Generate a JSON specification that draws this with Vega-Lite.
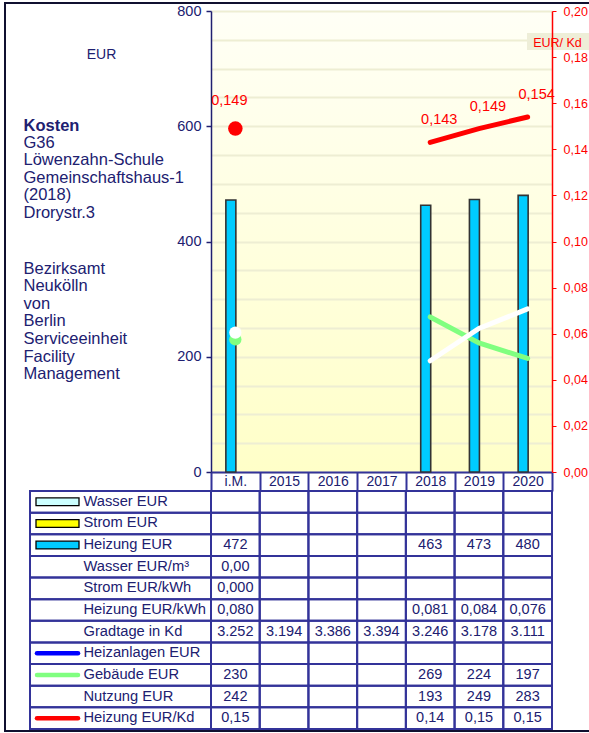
{
  "$schema": "https://vega.github.io/schema/vega-lite/v6.json",
  "width": 341,
  "height": 461,
  "autosize": {"type": "none"},
  "padding": {"left": 211, "top": 11, "right": 37, "bottom": 261},
  "background": "#FFFFFF",
  "view": {
    "stroke": null,
    "fill": {"gradient": "linear", "x1": 0, "y1": 0, "x2": 0, "y2": 1,
      "stops": [{"offset": 0, "color": "#FFFFF6"}, {"offset": 1, "color": "#FFFFC8"}]}
  },
  "config": {
    "font": "Liberation Sans",
    "locale": {"number": {"decimal": ",", "thousands": ".", "grouping": [3], "currency": ["", " €"]}}
  },
  "datasets": {
    "d": [
      {"row": "Wasser EUR", "cat": "i.M.", "v": null},
      {"row": "Wasser EUR", "cat": "2015", "v": null},
      {"row": "Wasser EUR", "cat": "2016", "v": null},
      {"row": "Wasser EUR", "cat": "2017", "v": null},
      {"row": "Wasser EUR", "cat": "2018", "v": null},
      {"row": "Wasser EUR", "cat": "2019", "v": null},
      {"row": "Wasser EUR", "cat": "2020", "v": null},
      {"row": "Strom EUR", "cat": "i.M.", "v": null},
      {"row": "Strom EUR", "cat": "2015", "v": null},
      {"row": "Strom EUR", "cat": "2016", "v": null},
      {"row": "Strom EUR", "cat": "2017", "v": null},
      {"row": "Strom EUR", "cat": "2018", "v": null},
      {"row": "Strom EUR", "cat": "2019", "v": null},
      {"row": "Strom EUR", "cat": "2020", "v": null},
      {"row": "Heizung EUR", "cat": "i.M.", "v": 472},
      {"row": "Heizung EUR", "cat": "2015", "v": null},
      {"row": "Heizung EUR", "cat": "2016", "v": null},
      {"row": "Heizung EUR", "cat": "2017", "v": null},
      {"row": "Heizung EUR", "cat": "2018", "v": 463},
      {"row": "Heizung EUR", "cat": "2019", "v": 473},
      {"row": "Heizung EUR", "cat": "2020", "v": 480},
      {"row": "Wasser EUR/m³", "cat": "i.M.", "v": 0},
      {"row": "Wasser EUR/m³", "cat": "2015", "v": null},
      {"row": "Wasser EUR/m³", "cat": "2016", "v": null},
      {"row": "Wasser EUR/m³", "cat": "2017", "v": null},
      {"row": "Wasser EUR/m³", "cat": "2018", "v": null},
      {"row": "Wasser EUR/m³", "cat": "2019", "v": null},
      {"row": "Wasser EUR/m³", "cat": "2020", "v": null},
      {"row": "Strom EUR/kWh", "cat": "i.M.", "v": 0},
      {"row": "Strom EUR/kWh", "cat": "2015", "v": null},
      {"row": "Strom EUR/kWh", "cat": "2016", "v": null},
      {"row": "Strom EUR/kWh", "cat": "2017", "v": null},
      {"row": "Strom EUR/kWh", "cat": "2018", "v": null},
      {"row": "Strom EUR/kWh", "cat": "2019", "v": null},
      {"row": "Strom EUR/kWh", "cat": "2020", "v": null},
      {"row": "Heizung EUR/kWh", "cat": "i.M.", "v": 0.080},
      {"row": "Heizung EUR/kWh", "cat": "2015", "v": null},
      {"row": "Heizung EUR/kWh", "cat": "2016", "v": null},
      {"row": "Heizung EUR/kWh", "cat": "2017", "v": null},
      {"row": "Heizung EUR/kWh", "cat": "2018", "v": 0.081},
      {"row": "Heizung EUR/kWh", "cat": "2019", "v": 0.084},
      {"row": "Heizung EUR/kWh", "cat": "2020", "v": 0.076},
      {"row": "Gradtage in Kd", "cat": "i.M.", "v": 3252},
      {"row": "Gradtage in Kd", "cat": "2015", "v": 3194},
      {"row": "Gradtage in Kd", "cat": "2016", "v": 3386},
      {"row": "Gradtage in Kd", "cat": "2017", "v": 3394},
      {"row": "Gradtage in Kd", "cat": "2018", "v": 3246},
      {"row": "Gradtage in Kd", "cat": "2019", "v": 3178},
      {"row": "Gradtage in Kd", "cat": "2020", "v": 3111},
      {"row": "Heizanlagen EUR", "cat": "i.M.", "v": null},
      {"row": "Heizanlagen EUR", "cat": "2015", "v": null},
      {"row": "Heizanlagen EUR", "cat": "2016", "v": null},
      {"row": "Heizanlagen EUR", "cat": "2017", "v": null},
      {"row": "Heizanlagen EUR", "cat": "2018", "v": null},
      {"row": "Heizanlagen EUR", "cat": "2019", "v": null},
      {"row": "Heizanlagen EUR", "cat": "2020", "v": null},
      {"row": "Gebäude EUR", "cat": "i.M.", "v": 230},
      {"row": "Gebäude EUR", "cat": "2015", "v": null},
      {"row": "Gebäude EUR", "cat": "2016", "v": null},
      {"row": "Gebäude EUR", "cat": "2017", "v": null},
      {"row": "Gebäude EUR", "cat": "2018", "v": 269},
      {"row": "Gebäude EUR", "cat": "2019", "v": 224},
      {"row": "Gebäude EUR", "cat": "2020", "v": 197},
      {"row": "Nutzung EUR", "cat": "i.M.", "v": 242},
      {"row": "Nutzung EUR", "cat": "2015", "v": null},
      {"row": "Nutzung EUR", "cat": "2016", "v": null},
      {"row": "Nutzung EUR", "cat": "2017", "v": null},
      {"row": "Nutzung EUR", "cat": "2018", "v": 193},
      {"row": "Nutzung EUR", "cat": "2019", "v": 249},
      {"row": "Nutzung EUR", "cat": "2020", "v": 283},
      {"row": "Heizung EUR/Kd", "cat": "i.M.", "v": 0.149},
      {"row": "Heizung EUR/Kd", "cat": "2015", "v": null},
      {"row": "Heizung EUR/Kd", "cat": "2016", "v": null},
      {"row": "Heizung EUR/Kd", "cat": "2017", "v": null},
      {"row": "Heizung EUR/Kd", "cat": "2018", "v": 0.143},
      {"row": "Heizung EUR/Kd", "cat": "2019", "v": 0.149},
      {"row": "Heizung EUR/Kd", "cat": "2020", "v": 0.154}
    ]
  },
  "data": {"name": "d"},
  "layer": [
    {
      "data": {"values": [{}]},
      "mark": {"type": "rect", "fillOpacity": 0, "stroke": "#101030", "strokeWidth": 2},
      "encoding": {
        "x": {"datum": "frame", "type": "nominal", "axis": null,
          "scale": {"domain": ["frame"], "range": [-206, 400], "paddingInner": 0, "paddingOuter": 0}},
        "y": {"datum": "frame", "type": "nominal", "axis": null,
          "scale": {"domain": ["frame"], "range": [-8, 720], "paddingInner": 0, "paddingOuter": 0}}
      }
    },
    {
      "data": {"values": [{}]},
      "mark": {"type": "rect", "fill": "#EEEED8", "stroke": null},
      "encoding": {
        "x": {"datum": "box", "type": "nominal", "axis": null,
          "scale": {"domain": ["box"], "range": [316, 380], "paddingInner": 0, "paddingOuter": 0}},
        "y": {"datum": "box", "type": "nominal", "axis": null,
          "scale": {"domain": ["box"], "range": [22, 39], "paddingInner": 0, "paddingOuter": 0}}
      }
    },
    {
      "encoding": {
        "x": {"field": "cat", "type": "nominal", "sort": null,
          "scale": {"domain": ["i.M.", "2015", "2016", "2017", "2018", "2019", "2020"], "paddingInner": 0, "paddingOuter": 0},
          "axis": {"orient": "bottom", "tickBand": "extent", "tickSize": 19, "tickWidth": 2, "tickColor": "#333399",
            "domainColor": "#333399", "domainWidth": 2, "labelColor": "#202070", "labelFontSize": 14,
            "labelPadding": -9.5, "labelBaseline": "middle", "labelAngle": 0, "grid": false, "title": null}},
        "y": {"field": "v", "type": "quantitative",
          "scale": {"domain": [0, 800], "nice": false},
          "axis": {"orient": "left", "values": [0, 50, 100, 150, 200, 250, 300, 350, 400, 450, 500, 550, 600, 650, 700, 750, 800],
            "labelExpr": "datum.value % 200 === 0 ? datum.label : ''",
            "tickOpacity": {"condition": {"test": "datum.value % 200 === 0", "value": 1}, "value": 0},
            "tickSize": 5, "tickWidth": 1.5, "tickColor": "#202070", "domainColor": "#202070", "domainWidth": 1.5,
            "labelColor": "#202070", "labelFontSize": 14.5, "labelPadding": 5,
            "grid": true, "gridColor": "#EEEED3", "gridWidth": 2,
            "title": "EUR", "titleAngle": 0, "titleX": -110, "titleY": 47, "titleAlign": "center",
            "titleBaseline": "alphabetic", "titleFontSize": 14, "titleFontWeight": "normal", "titleColor": "#202070"}}
      },
      "layer": [
        {
          "transform": [{"filter": "datum.row === 'Heizung EUR' && isValid(datum.v)"}],
          "mark": {"type": "bar", "width": 10, "xOffset": -4.5, "fill": "#00CCFF", "stroke": "#333333", "strokeWidth": 1.6}
        },
        {
          "transform": [{"filter": "datum.row === 'Gebäude EUR' && datum.cat !== 'i.M.' && isValid(datum.v)"}],
          "mark": {"type": "line", "color": "#80FF80", "strokeWidth": 5, "strokeCap": "round"}
        },
        {
          "transform": [{"filter": "datum.row === 'Gebäude EUR' && datum.cat === 'i.M.'"}],
          "mark": {"type": "point", "filled": true, "color": "#80FF80", "opacity": 1, "size": 150}
        },
        {
          "transform": [{"filter": "datum.row === 'Nutzung EUR' && datum.cat !== 'i.M.' && isValid(datum.v)"}],
          "mark": {"type": "line", "color": "#FFFFFF", "strokeWidth": 5, "strokeCap": "round"}
        },
        {
          "transform": [{"filter": "datum.row === 'Nutzung EUR' && datum.cat === 'i.M.'"}],
          "mark": {"type": "point", "filled": true, "color": "#FFFFFF", "opacity": 1, "size": 150}
        }
      ]
    },
    {
      "encoding": {
        "x": {"field": "cat", "type": "nominal", "sort": null,
          "scale": {"domain": ["i.M.", "2015", "2016", "2017", "2018", "2019", "2020"], "paddingInner": 0, "paddingOuter": 0},
          "axis": {"orient": "bottom", "labels": false, "ticks": false, "domain": false, "grid": false,
            "title": ["G36", "Löwenzahn-Schule", "Gemeinschaftshaus-1", "(2018)", "Drorystr.3"],
            "titleX": -188, "titleY": -325, "titleAlign": "left", "titleAnchor": "start", "titleAngle": 0,
            "titleBaseline": "alphabetic", "titleLineHeight": 17.6, "titleFontSize": 16.5,
            "titleFontWeight": "normal", "titleColor": "#202070"}},
        "y": {"field": "v", "type": "quantitative",
          "scale": {"domain": [0, 0.2], "nice": false},
          "axis": {"orient": "right", "zindex": 1, "values": [0, 0.02, 0.04, 0.06, 0.08, 0.1, 0.12, 0.14, 0.16, 0.18, 0.2],
            "format": ".2f", "labelColor": "#FF0000", "labelFontSize": 12.5, "tickColor": "#FF0000", "tickSize": 4,
            "domainColor": "#FF0000", "domainWidth": 1.5, "labelPadding": 7, "grid": false,
            "title": "EUR/ Kd", "titleAngle": 0, "titleX": 5, "titleY": 35, "titleAlign": "center",
            "titleBaseline": "alphabetic", "titleColor": "#FF0000", "titleFontSize": 12.5, "titleFontWeight": "normal"}}
      },
      "layer": [
        {
          "transform": [{"filter": "datum.row === 'Heizung EUR/Kd' && datum.cat !== 'i.M.' && isValid(datum.v)"}],
          "mark": {"type": "line", "color": "#FF0000", "strokeWidth": 5, "strokeCap": "round"}
        },
        {
          "transform": [{"filter": "datum.row === 'Heizung EUR/Kd' && datum.cat === 'i.M.'"}],
          "mark": {"type": "point", "filled": true, "color": "#FF0000", "opacity": 1, "size": 210}
        },
        {
          "transform": [{"filter": "datum.row === 'Heizung EUR/Kd' && datum.cat !== 'i.M.' && isValid(datum.v)"}],
          "mark": {"type": "text", "color": "#FF0000", "fontSize": 14.5, "dx": 9, "dy": -22, "baseline": "middle"},
          "encoding": {"text": {"field": "v", "type": "quantitative", "format": ".3f"}}
        },
        {
          "transform": [{"filter": "datum.row === 'Heizung EUR/Kd' && datum.cat === 'i.M.'"}],
          "mark": {"type": "text", "color": "#FF0000", "fontSize": 14.5, "dx": -6, "dy": -28, "baseline": "middle"},
          "encoding": {"text": {"field": "v", "type": "quantitative", "format": ".3f"}}
        }
      ]
    },
    {
      "encoding": {
        "x": {"field": "cat", "type": "nominal", "sort": null,
          "scale": {"domain": ["i.M.", "2015", "2016", "2017", "2018", "2019", "2020"], "paddingInner": 0, "paddingOuter": 0},
          "axis": {"orient": "bottom", "labels": false, "ticks": false, "domain": false, "grid": false,
            "title": "Kosten", "titleX": -188, "titleY": -342, "titleAlign": "left", "titleAnchor": "start", "titleAngle": 0,
            "titleBaseline": "alphabetic", "titleFontSize": 16.5, "titleFontWeight": "bold", "titleColor": "#202070"}},
        "y": {"field": "row", "type": "nominal", "sort": null,
          "scale": {"domain": ["Wasser EUR", "Strom EUR", "Heizung EUR", "Wasser EUR/m³", "Strom EUR/kWh", "Heizung EUR/kWh", "Gradtage in Kd", "Heizanlagen EUR", "Gebäude EUR", "Nutzung EUR", "Heizung EUR/Kd"],
            "range": [480, 718], "paddingInner": 0, "paddingOuter": 0},
          "axis": {"orient": "left", "ticks": false, "domain": false, "grid": false, "labelAlign": "left",
            "labelPadding": 128, "labelBaseline": "middle", "labelFontSize": 14.7, "labelColor": "#202070",
            "labelLimit": 200, "title": null}}
      },
      "layer": [
        {
          "mark": {"type": "rect", "fillOpacity": 0, "stroke": "#333399", "strokeWidth": 2}
        },
        {
          "transform": [{"filter": {"field": "row", "oneOf": ["Heizung EUR", "Gebäude EUR", "Nutzung EUR"]}}, {"filter": "isValid(datum.v)"}],
          "mark": {"type": "text", "color": "#202070", "fontSize": 14.5, "baseline": "middle"},
          "encoding": {"text": {"field": "v", "type": "quantitative", "format": "d"}}
        },
        {
          "transform": [{"filter": {"field": "row", "oneOf": ["Wasser EUR/m³", "Heizung EUR/Kd"]}}, {"filter": "isValid(datum.v)"}],
          "mark": {"type": "text", "color": "#202070", "fontSize": 14.5, "baseline": "middle"},
          "encoding": {"text": {"field": "v", "type": "quantitative", "format": ".2f"}}
        },
        {
          "transform": [{"filter": {"field": "row", "oneOf": ["Strom EUR/kWh", "Heizung EUR/kWh"]}}, {"filter": "isValid(datum.v)"}],
          "mark": {"type": "text", "color": "#202070", "fontSize": 14.5, "baseline": "middle"},
          "encoding": {"text": {"field": "v", "type": "quantitative", "format": ".3f"}}
        },
        {
          "transform": [{"filter": {"field": "row", "oneOf": ["Gradtage in Kd"]}}, {"filter": "isValid(datum.v)"}],
          "mark": {"type": "text", "color": "#202070", "fontSize": 14.5, "baseline": "middle"},
          "encoding": {"text": {"field": "v", "type": "quantitative", "format": ",d"}}
        }
      ]
    },
    {
      "transform": [{"aggregate": [{"op": "count", "as": "n"}], "groupby": ["row"]}],
      "encoding": {
        "y": {"field": "row", "type": "nominal", "sort": null, "axis": null,
          "scale": {"domain": ["Wasser EUR", "Strom EUR", "Heizung EUR", "Wasser EUR/m³", "Strom EUR/kWh", "Heizung EUR/kWh", "Gradtage in Kd", "Heizanlagen EUR", "Gebäude EUR", "Nutzung EUR", "Heizung EUR/Kd"],
            "range": [480, 718], "paddingInner": 0, "paddingOuter": 0}}
      },
      "layer": [
        {
          "mark": {"type": "rect", "fillOpacity": 0, "stroke": "#333399", "strokeWidth": 2},
          "encoding": {
            "x": {"datum": "lbl", "type": "nominal",
              "scale": {"domain": ["lbl"], "range": [-181, 0], "paddingInner": 0, "paddingOuter": 0},
              "axis": {"orient": "bottom", "labels": false, "ticks": false, "domain": false, "grid": false,
                "title": ["Bezirksamt", "Neukölln", "von", "Berlin", "Serviceeinheit", "Facility", "Management"],
                "titleX": -188, "titleY": -199, "titleAlign": "left", "titleAnchor": "start", "titleAngle": 0,
                "titleBaseline": "alphabetic", "titleLineHeight": 17.65, "titleFontSize": 16.5,
                "titleFontWeight": "normal", "titleColor": "#202070"}}
          }
        },
        {
          "transform": [{"filter": {"field": "row", "oneOf": ["Wasser EUR", "Strom EUR", "Heizung EUR"]}}],
          "mark": {"type": "point", "filled": true, "opacity": 1, "shape": "M-1,-0.18H1V0.18H-1Z", "size": 1849, "stroke": "#000000", "strokeWidth": 1.3},
          "encoding": {
            "x": {"datum": "sw", "type": "nominal", "axis": null,
              "scale": {"domain": ["sw"], "range": [-175, -132], "paddingInner": 0, "paddingOuter": 0}},
            "fill": {"field": "row", "type": "nominal", "legend": null,
              "scale": {"domain": ["Wasser EUR", "Strom EUR", "Heizung EUR"], "range": ["#CCFFFF", "#FFFF00", "#00CCFF"]}}
          }
        },
        {
          "transform": [{"filter": {"field": "row", "oneOf": ["Heizanlagen EUR", "Gebäude EUR", "Heizung EUR/Kd"]}}],
          "mark": {"type": "point", "filled": false, "opacity": 1, "shape": "M-1,0H1", "size": 1681, "strokeWidth": 4.5, "strokeCap": "round"},
          "encoding": {
            "x": {"datum": "sw", "type": "nominal", "axis": null,
              "scale": {"domain": ["sw"], "range": [-175, -132], "paddingInner": 0, "paddingOuter": 0}},
            "stroke": {"field": "row", "type": "nominal", "legend": null,
              "scale": {"domain": ["Heizanlagen EUR", "Gebäude EUR", "Heizung EUR/Kd"], "range": ["#0000FF", "#80FF80", "#FF0000"]}}
          }
        }
      ],
      "resolve": {"scale": {"x": "independent"}}
    }
  ],
  "resolve": {"scale": {"x": "independent", "y": "independent"}}
}
